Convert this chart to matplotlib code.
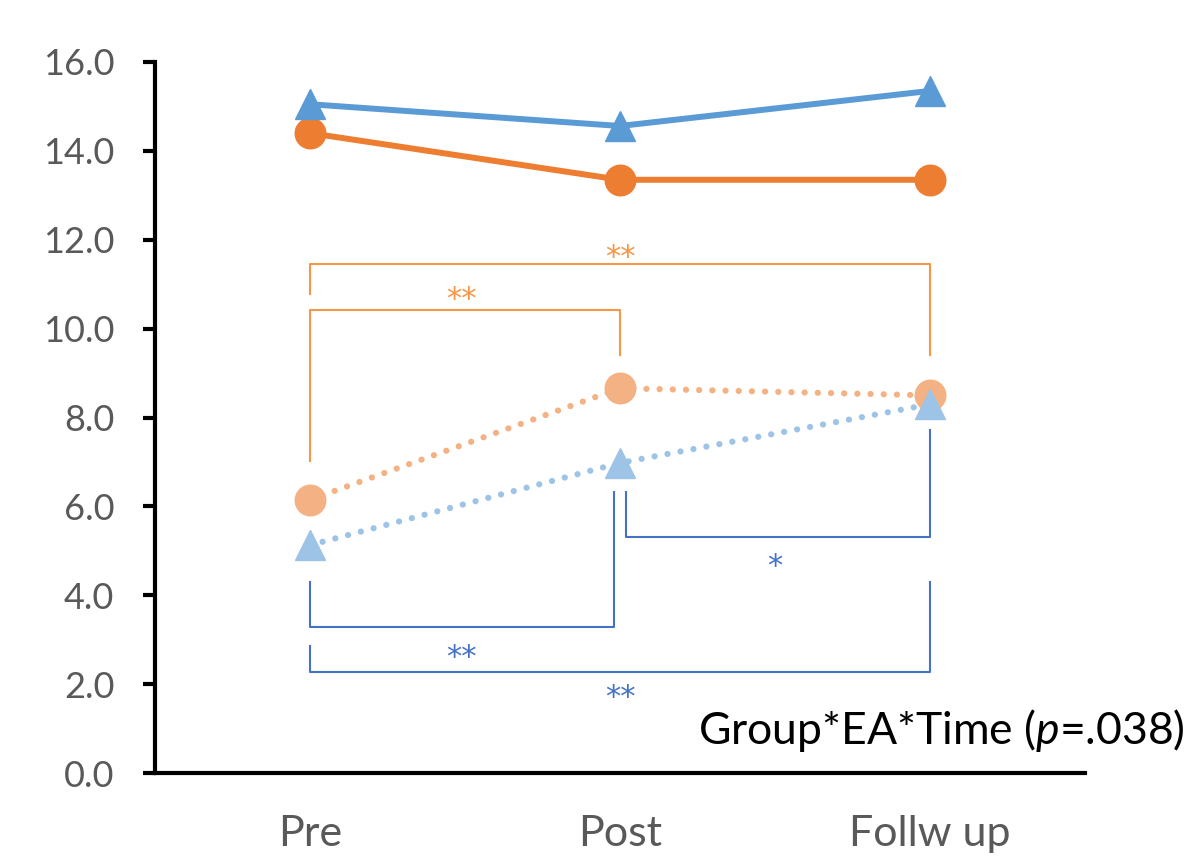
import matplotlib
matplotlib.use("Agg")
import matplotlib.pyplot as plt

# 数据
times = ["Pre", "Post", "Follw up"]
blue_solid = [15.05, 14.56, 15.35]
orange_solid = [14.4, 13.35, 13.35]
orange_dot = [6.15, 8.66, 8.5]
blue_dot = [5.13, 6.98, 8.3]

# 显著性括号: (x1, x2, 横线y, 左端y, 右端y, 标记, 标记x, 标记y)
orange_brackets = [
    (0, 2, 11.45, 10.78, 9.41, "**", 1.0, 11.8),
    (0, 1, 10.42, 7.02, 9.41, "**", 0.49, 10.85),
]
blue_brackets = [
    (1.02, 2, 5.31, 6.32, 7.72, "*", 1.5, 4.86),
    (0, 0.98, 3.28, 4.3, 6.32, "**", 0.49, 2.81),
    (0, 2, 2.27, 2.86, 4.3, "**", 1.0, 1.91),
]
note = "Group*EA*Time ($\\it{p}$=.038)"

plt.rcParams['font.family'] = ['Lato', 'DejaVu Sans']
plt.rcParams['mathtext.fontset'] = 'custom'
plt.rcParams['mathtext.rm'] = 'Lato'
plt.rcParams['mathtext.it'] = 'Lato:italic'

fig = plt.figure(figsize=(11.9, 8.61), dpi=100)
ax = fig.add_axes([0.130, 0.102, 0.782, 0.826])

x = list(range(len(times)))

# 括号
def draw_brackets(brackets, color):
    for x1, x2, yb, yl, yr, mark, mx, my in brackets:
        ax.plot([x1, x1, x2, x2], [yl, yb, yb, yr], color=color, lw=1.5, zorder=1)
        # 星号字形偏上, 往下挪一点
        ax.text(mx, my - 0.2, mark, color=color, fontsize=22, ha='center', va='center',
                family='DejaVu Sans')

draw_brackets(orange_brackets, '#F79646')
draw_brackets(blue_brackets, '#4472C4')

ax.plot(x, orange_dot, color='#F4B183', lw=4.5, ls=(0, (0.01, 2.1)),
        dash_capstyle='round', marker='o', ms=22, zorder=3)
ax.plot(x, blue_dot, color='#9DC3E6', lw=4.5, ls=(0, (0.01, 2.1)),
        dash_capstyle='round', marker='^', ms=22, zorder=3)
ax.plot(x, orange_solid, color='#ED7D31', lw=4.3, marker='o', ms=22, zorder=4)
ax.plot(x, blue_solid, color='#5B9BD5', lw=4.3, marker='^', ms=22, zorder=4)

ax.text(2.82, 0.97, note, fontsize=32, ha='right', va='center', color='black')

ax.set_xlim(-0.5, 2.5)
ax.set_ylim(0, 16)
ax.set_yticks([0, 2, 4, 6, 8, 10, 12, 14, 16])
ax.set_yticklabels(["%.1f" % v for v in ax.get_yticks()])
ax.set_xticks(x)
ax.set_xticklabels(times)

for s in ['top', 'right']:
    ax.spines[s].set_visible(False)
for s in ['left', 'bottom']:
    ax.spines[s].set_linewidth(3)
ax.tick_params(axis='y', direction='out', length=9, width=3, labelsize=26,
               labelcolor='#595959', pad=20)
ax.tick_params(axis='x', length=0, labelsize=31, labelcolor='#595959', pad=30)

fig.savefig("out.png", dpi=100)
